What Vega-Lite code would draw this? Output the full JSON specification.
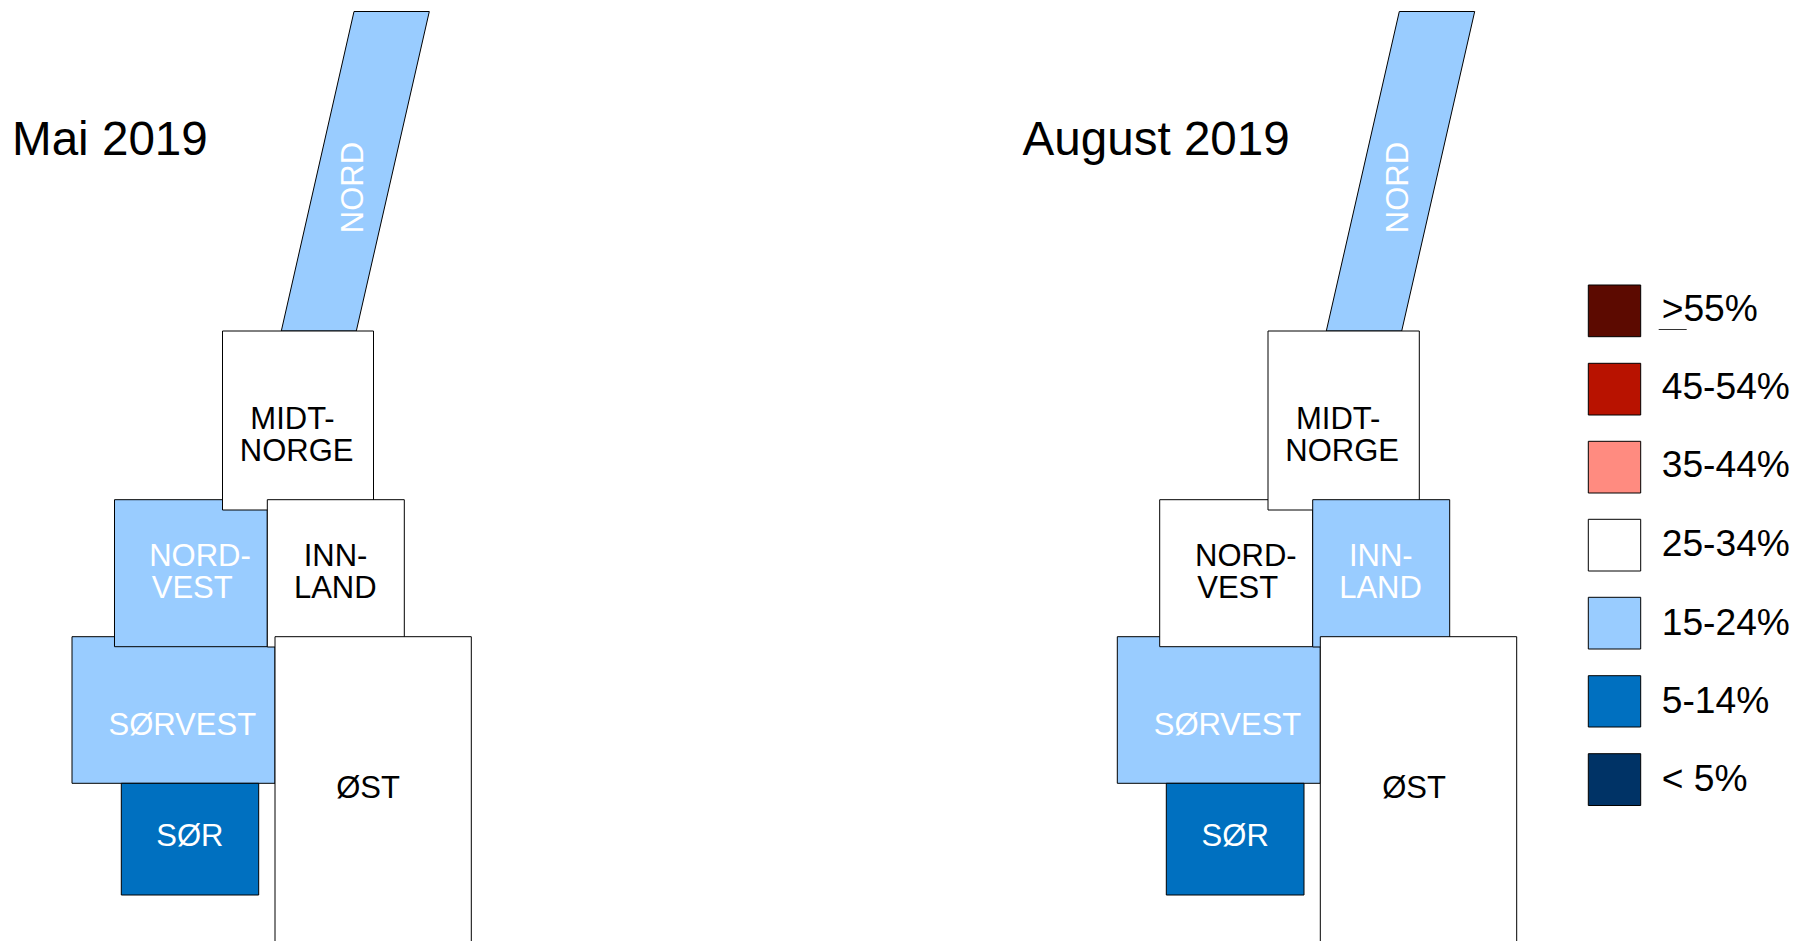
{
"$schema":"https://vega.github.io/schema/vega-lite/v6.json",
"width":1794,"height":941,"padding":0,"autosize":{"type":"none"},
"background":"white",
"config":{"view":{"stroke":null},"text":{"font":"Liberation Sans"}},
"datasets":{
"nord":[
{"panel":"Mai 2019","band":"15-24%","y":11.5,"x0":354,"x1":429.3},
{"panel":"Mai 2019","band":"15-24%","y":331,"x0":281.3,"x1":356.3},
{"panel":"August 2019","band":"15-24%","y":11.5,"x0":1399.3,"x1":1474.7},
{"panel":"August 2019","band":"15-24%","y":331,"x0":1326.3,"x1":1401.7}
],
"regions":[
{"panel":"Mai 2019","region":"SØRVEST","band":"15-24%","x0":72,"x1":275,"y0":636.7,"y1":783.3},
{"panel":"Mai 2019","region":"SØR","band":"5-14%","x0":121.3,"x1":258.7,"y0":783.3,"y1":895},
{"panel":"Mai 2019","region":"NORDVEST","band":"15-24%","x0":114.5,"x1":267.3,"y0":499.7,"y1":646.7},
{"panel":"Mai 2019","region":"MIDT-NORGE","band":"25-34%","x0":222.5,"x1":373.5,"y0":331,"y1":510},
{"panel":"Mai 2019","region":"INNLAND","band":"25-34%","x0":267.3,"x1":404.3,"y0":499.7,"y1":647},
{"panel":"Mai 2019","region":"ØST","band":"25-34%","x0":275,"x1":471.3,"y0":636.7,"y1":960},
{"panel":"August 2019","region":"SØRVEST","band":"15-24%","x0":1117.3,"x1":1320.3,"y0":636.7,"y1":783.3},
{"panel":"August 2019","region":"SØR","band":"5-14%","x0":1166.3,"x1":1304,"y0":783.3,"y1":895},
{"panel":"August 2019","region":"NORDVEST","band":"25-34%","x0":1159.7,"x1":1312.7,"y0":499.7,"y1":646.7},
{"panel":"August 2019","region":"MIDT-NORGE","band":"25-34%","x0":1268,"x1":1419.3,"y0":331,"y1":510},
{"panel":"August 2019","region":"INNLAND","band":"15-24%","x0":1312.7,"x1":1449.7,"y0":499.7,"y1":647},
{"panel":"August 2019","region":"ØST","band":"25-34%","x0":1320.3,"x1":1516.7,"y0":636.7,"y1":960}
],
"labels":[
{"text":"MIDT-","band":"25-34%","x":292.5,"y":428.5},
{"text":"NORGE","band":"25-34%","x":296.7,"y":460.5},
{"text":"NORD-","band":"15-24%","x":200,"y":566},
{"text":"VEST","band":"15-24%","x":192.2,"y":597.5},
{"text":"INN-","band":"25-34%","x":335.5,"y":566},
{"text":"LAND","band":"25-34%","x":335.3,"y":597.5},
{"text":"SØRVEST","band":"15-24%","x":182.3,"y":735},
{"text":"SØR","band":"5-14%","x":189.8,"y":846},
{"text":"ØST","band":"25-34%","x":368,"y":797.7},
{"text":"MIDT-","band":"25-34%","x":1338.2,"y":428.5},
{"text":"NORGE","band":"25-34%","x":1342.2,"y":460.5},
{"text":"NORD-","band":"25-34%","x":1245.8,"y":566},
{"text":"VEST","band":"25-34%","x":1237.7,"y":597.5},
{"text":"INN-","band":"15-24%","x":1380.8,"y":566},
{"text":"LAND","band":"15-24%","x":1380.5,"y":597.5},
{"text":"SØRVEST","band":"15-24%","x":1227.5,"y":735},
{"text":"SØR","band":"5-14%","x":1235.2,"y":846},
{"text":"ØST","band":"25-34%","x":1414,"y":797.7}
],
"nordLabels":[
{"text":"NORD","x":362.7,"y":187.5},
{"text":"NORD","x":1408.3,"y":187.5}
],
"titles":[
{"text":"Mai 2019","x":12,"y":155},
{"text":"August 2019","x":1022.5,"y":155}
],
"legend":[
{"band":">55%","label":">55%","x0":1588.3,"x1":1640.7,"y0":285,"y1":336.7,"tx":1661.7,"ty":321.2},
{"band":"45-54%","label":"45-54%","x0":1588.3,"x1":1640.7,"y0":363.3,"y1":415,"tx":1661.7,"ty":399.2},
{"band":"35-44%","label":"35-44%","x0":1588.3,"x1":1640.7,"y0":441.3,"y1":493,"tx":1661.7,"ty":477.2},
{"band":"25-34%","label":"25-34%","x0":1588.3,"x1":1640.7,"y0":519.3,"y1":571,"tx":1661.7,"ty":556.2},
{"band":"15-24%","label":"15-24%","x0":1588.3,"x1":1640.7,"y0":597.3,"y1":649,"tx":1661.7,"ty":634.7},
{"band":"5-14%","label":"5-14%","x0":1588.3,"x1":1640.7,"y0":675.7,"y1":727,"tx":1661.7,"ty":712.7},
{"band":"< 5%","label":"< 5%","x0":1588.3,"x1":1640.7,"y0":753.7,"y1":805.5,"tx":1661.7,"ty":790.7}
],
"underline":[{"x0":1658.7,"x1":1686.7,"y":329.5}]
},
"layer":[
{"data":{"name":"nord"},
 "mark":{"type":"area","orient":"horizontal","stroke":"#000","strokeWidth":1,"fillOpacity":1},
 "encoding":{
  "y":{"field":"y","type":"quantitative","scale":{"domain":[941,0],"nice":false,"zero":false},"axis":null},
  "x":{"field":"x0","type":"quantitative","scale":{"domain":[0,1794],"nice":false,"zero":false},"axis":null},
  "x2":{"field":"x1"},
  "detail":{"field":"panel"},
  "color":{"field":"band","type":"nominal","legend":null,"scale":{"domain":[">55%","45-54%","35-44%","25-34%","15-24%","5-14%","< 5%"],"range":["#5c0a00","#b81200","#ff8b80","#ffffff","#99ccff","#0070c0","#003366"]}}
 }},
{"data":{"name":"regions"},
 "mark":{"type":"rect","stroke":"#000","strokeWidth":1},
 "encoding":{
  "x":{"field":"x0","type":"quantitative","scale":{"domain":[0,1794],"nice":false,"zero":false},"axis":null},
  "x2":{"field":"x1"},
  "y":{"field":"y0","type":"quantitative","scale":{"domain":[941,0],"nice":false,"zero":false},"axis":null},
  "y2":{"field":"y1"},
  "color":{"field":"band","type":"nominal","legend":null}
 }},
{"data":{"name":"legend"},
 "mark":{"type":"rect","stroke":"#000","strokeWidth":1},
 "encoding":{
  "x":{"field":"x0","type":"quantitative","axis":null},
  "x2":{"field":"x1"},
  "y":{"field":"y0","type":"quantitative","axis":null},
  "y2":{"field":"y1"},
  "color":{"field":"band","type":"nominal","legend":null}
 }},
{"data":{"name":"legend"},
 "mark":{"type":"text","font":"Liberation Sans","fontSize":37.2,"align":"left","baseline":"alphabetic","color":"#000"},
 "encoding":{
  "x":{"field":"tx","type":"quantitative","axis":null},
  "y":{"field":"ty","type":"quantitative","axis":null},
  "text":{"field":"label"}
 }},
{"data":{"name":"underline"},
 "mark":{"type":"rule","stroke":"#333","strokeWidth":1},
 "encoding":{
  "x":{"field":"x0","type":"quantitative","axis":null},
  "x2":{"field":"x1"},
  "y":{"field":"y","type":"quantitative","axis":null}
 }},
{"data":{"name":"labels"},
 "mark":{"type":"text","font":"Liberation Sans","fontSize":31,"align":"center","baseline":"alphabetic"},
 "encoding":{
  "x":{"field":"x","type":"quantitative","axis":null},
  "y":{"field":"y","type":"quantitative","axis":null},
  "text":{"field":"text"},
  "fill":{"condition":{"test":"datum.band === '25-34%'","value":"#000"},"value":"#fff"}
 }},
{"data":{"name":"nordLabels"},
 "mark":{"type":"text","font":"Liberation Sans","fontSize":31,"align":"center","baseline":"alphabetic","angle":270,"color":"#fff"},
 "encoding":{
  "x":{"field":"x","type":"quantitative","axis":null},
  "y":{"field":"y","type":"quantitative","axis":null},
  "text":{"field":"text"}
 }},
{"data":{"name":"titles"},
 "mark":{"type":"text","font":"Liberation Sans","fontSize":47.6,"align":"left","baseline":"alphabetic","color":"#000"},
 "encoding":{
  "x":{"field":"x","type":"quantitative","axis":null},
  "y":{"field":"y","type":"quantitative","axis":null},
  "text":{"field":"text"}
 }}
]
}
